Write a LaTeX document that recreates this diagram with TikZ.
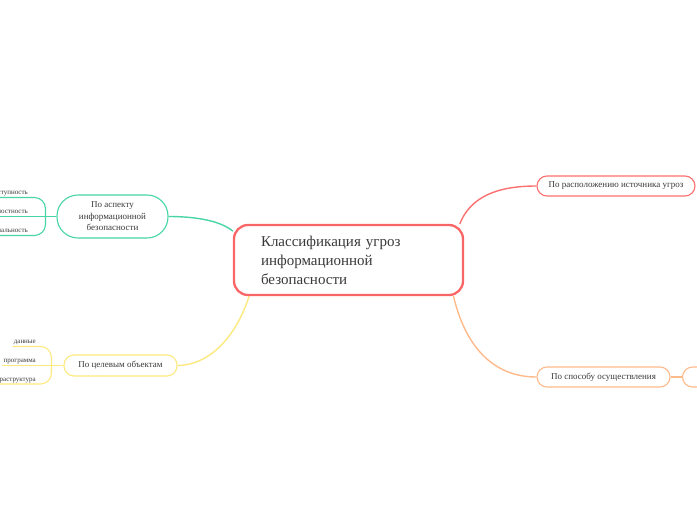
\documentclass[tikz,border=0pt]{standalone}
\usepackage{fontspec}
\setmainfont{Liberation Serif}
\usetikzlibrary{
    positioning,
    backgrounds
}
\definecolor{MainRed}{RGB}{250,102,102}
\definecolor{BranchRed}{RGB}{252,112,112}
\definecolor{BranchTeal}{RGB}{72,214,164}
\definecolor{BranchYellow}{RGB}{252,234,128}
\definecolor{BranchOrange}{RGB}{255,186,140}
\definecolor{TextGray}{RGB}{58,58,58}

\begin{document}
\begin{tikzpicture}[
            x=1pt, y=-1pt,
            every node/.style={text=TextGray},
            topic/.style={draw=#1, line width=1.1pt, fill=white, rounded corners=10pt,
                minimum height=20pt, inner sep=0pt, align=center,
                font=\fontsize{9}{11.5}\selectfont},
            leaf/.style={inner sep=1pt, anchor=south east, font=\fontsize{7}{7}\selectfont},
            link/.style={draw=#1, line width=1.4pt},
            twig/.style={draw=#1, line width=1.1pt, rounded corners=11pt},
        ]

        \useasboundingbox (0,0) rectangle (697,520);

        % Central topic
        \node[draw=MainRed, line width=2.3pt, fill=white, rounded corners=14pt,
            minimum width=229pt, minimum height=70pt, text width=175pt, align=left,
            inner sep=0pt, font=\fontsize{15}{19}\selectfont] (title) at (348.5,260)
            {Классификация угроз\\информационной\\безопасности};

        % Right branches
        \node[topic=BranchRed, minimum width=158pt] (istochnik) at (616,186) {По расположению источника угроз};
        \node[topic=BranchOrange, minimum width=133pt] (sposob) at (603.5,377) {По способу осуществления};
        \node[topic=BranchOrange, minimum width=60pt, anchor=west] (sposobNext) at (682,377) {};

        % Left branches
        \node[topic=BranchTeal, minimum width=111pt, minimum height=43pt, rounded corners=21pt] (aspekt) at (112.5,216.5)
            {По аспекту\\информационной\\безопасности};
        \node[topic=BranchYellow, minimum width=113pt, minimum height=21pt] (obekty) at (120.5,365.5) {По целевым объектам};

        % Leaves of the teal branch
        \coordinate[left=11pt of aspekt.west] (aspektJ);
        \node[leaf] (dostup) at (29,197.5) {доступность};
        \node[leaf] (celost) at (29,216.5) {целостность};
        \node[leaf] (konf) at (29,235.5) {конфиденциальность};
        \draw[twig=BranchTeal] (aspekt.west) -- (aspektJ);
        \draw[twig=BranchTeal] (aspektJ) |- (dostup.south west);
        \draw[twig=BranchTeal] (aspektJ) -- (celost.south west);
        \draw[twig=BranchTeal] (aspektJ) |- (konf.south west);

        % Leaves of the yellow branch
        \coordinate[left=12pt of obekty.west] (obektyJ);
        \node[leaf] (dannye) at (37,346.5) {данные};
        \node[leaf] (programma) at (37,365.5) {программа};
        \node[leaf] (infra) at (37,384) {инфраструктура};
        \draw[twig=BranchYellow] (obekty.west) -- (obektyJ);
        \draw[twig=BranchYellow] (obektyJ) |- (dannye.south west);
        \draw[twig=BranchYellow] (obektyJ) -- (programma.south west);
        \draw[twig=BranchYellow] (obektyJ) |- (infra.south west);

        % Links from the central topic
        \begin{scope}[on background layer]
            \fill[white] (0,0) rectangle (697,520);
            \draw[link=BranchRed] (title.18) .. controls (470,198) and (495,186) .. (istochnik.west);
            \draw[link=BranchOrange] (title.-19) .. controls (465,345) and (492,377) .. (sposob.west);
            \draw[link=BranchOrange, line width=1.1pt] (sposob.east) -- (sposobNext.west);
            \draw[link=BranchTeal] (title.166) .. controls (222,222) and (200,216.5) .. (aspekt.east);
            \draw[link=BranchYellow] (title.200) .. controls (235,340) and (207,365.5) .. (obekty.east);
        \end{scope}
        \end{tikzpicture}
\end{document}
